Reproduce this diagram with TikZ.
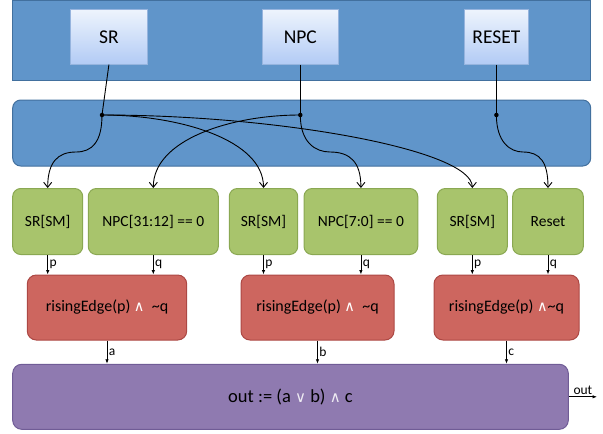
\documentclass[tikz,border=0pt]{standalone}
\usepackage{fontspec}
\setmainfont{Carlito}
\newfontfamily\symf{DejaVu Sans}
\usetikzlibrary{arrows.meta}
\definecolor{panelfill}{RGB}{96,149,202}
\definecolor{paneldraw}{RGB}{66,112,158}
\definecolor{srctop}{RGB}{238,244,253}
\definecolor{srcbot}{RGB}{178,203,245}
\definecolor{srcdraw}{RGB}{150,180,222}
\definecolor{grnfill}{RGB}{168,196,108}
\definecolor{grndraw}{RGB}{138,168,82}
\definecolor{redfill}{RGB}{205,102,95}
\definecolor{reddraw}{RGB}{172,72,68}
\definecolor{purfill}{RGB}{143,122,176}
\definecolor{purdraw}{RGB}{112,92,150}
\newcommand\wand{{\color{white}\symf\fontsize{14.5}{14.5}\selectfont ∧}}
\newcommand\wor{{\color{white!85!purfill}\symf\fontsize{15}{15}\selectfont ∨}}
\newcommand\wandp{{\color{white!85!purfill}\symf\fontsize{15}{15}\selectfont ∧}}
\begin{document}
\begin{tikzpicture}[x=1pt,y=-1pt,
  panel/.style={draw=paneldraw,fill=panelfill,line width=1pt,inner sep=0pt},
  srcbox/.style={draw=srcdraw,top color=srctop,bottom color=srcbot,line width=0.8pt,inner sep=0pt,minimum height=55pt,font=\fontsize{19.5}{20}\selectfont},
  condbox/.style={draw=grndraw,fill=grnfill,line width=1pt,rounded corners=8pt,inner sep=0pt,minimum height=66pt,font=\fontsize{15.5}{16}\selectfont},
  edgebox/.style={draw=reddraw,fill=redfill,line width=1pt,rounded corners=9pt,inner sep=0pt,minimum height=65pt,font=\fontsize{16}{17}\selectfont},
  outbox/.style={draw=purdraw,fill=purfill,line width=1pt,rounded corners=9pt,inner sep=0pt,minimum height=65pt,font=\fontsize{18.5}{19}\selectfont},
  junction/.style={circle,fill=black,inner sep=0pt,minimum size=4.5pt},
  wire/.style={line width=0.9pt,-{Straight Barb[length=5pt,width=8pt]}},
  sig/.style={line width=0.8pt,-{Latex[length=4.5pt,width=3.5pt]}},
  lab/.style={font=\fontsize{13.5}{14}\selectfont,inner sep=1.5pt}]
\useasboundingbox (0,0) rectangle (603,434);
% top panel and sources
\node[panel,minimum width=578pt,minimum height=79.5pt] (toppanel) at (301,40.25) {};
\node[srcbox,minimum width=77.7pt] (sr) at (108.9,36.8) {SR};
\node[srcbox,minimum width=76pt] (npc) at (300.3,36.8) {NPC};
\node[srcbox,minimum width=63.7pt] (rst) at (496.4,36.8) {RESET};
% second panel
\node[panel,rounded corners=8pt,minimum width=578pt,minimum height=66pt] (midpanel) at (301.7,133) {};
\node[junction] (d1) at (102,115) {};
\node[junction] (d2) at (300.3,115) {};
\node[junction] (d3) at (496.4,115) {};
\draw[line width=0.9pt] (sr.south) -- (d1.center);
\draw[line width=0.9pt] (npc.south) -- (d2.center);
\draw[line width=0.9pt] (rst.south) -- (d3.center);
% condition boxes
\node[condbox,minimum width=70pt] (g1) at (47.7,221.5) {SR[SM]};
\node[condbox,minimum width=130pt] (g2) at (153.3,221.5) {NPC[31:12] == 0};
\node[condbox,minimum width=68.4pt] (g3) at (263.5,221.5) {SR[SM]};
\node[condbox,minimum width=113.7pt] (g4) at (360.9,221.5) {NPC[7:0] == 0};
\node[condbox,minimum width=70pt] (g5) at (472.3,221.5) {SR[SM]};
\node[condbox,minimum width=70.6pt] (g6) at (548,221.5) {Reset};
% wires
\draw[wire] (d1.center) .. controls (102,142) and (92,152) .. (76,152) .. controls (58,152) and (47.7,162) .. (g1.north);
\draw[wire] (d1.center) .. controls (180,115) and (263.5,140) .. (g3.north);
\draw[wire] (d1.center) .. controls (280,115) and (472.3,150) .. (g5.north);
\draw[wire] (d2.center) .. controls (230,115) and (153.3,140) .. (g2.north);
\draw[wire] (d2.center) .. controls (300.3,142) and (315,152) .. (330,152) .. controls (350,152) and (360.9,162) .. (g4.north);
\draw[wire] (d3.center) .. controls (496.4,142) and (510,152) .. (523,152) .. controls (540,152) and (548,162) .. (g6.north);
% rising edge boxes
\node[edgebox,minimum width=159.4pt] (r1) at (107,307.5) {risingEdge(p) \wand\ \ \textasciitilde q};
\node[edgebox,minimum width=153pt] (r2) at (317.5,307.5) {risingEdge(p) \wand\ \ \textasciitilde q};
\node[edgebox,minimum width=145pt] (r3) at (506.5,307.5) {risingEdge(p) \wand\textasciitilde q};
% p / q signals
\draw[sig] (g1.south) -- (g1.south |- r1.north) node[lab,midway,right] {p};
\draw[sig] (g2.south) -- (g2.south |- r1.north) node[lab,midway,right] {q};
\draw[sig] (g3.south) -- (g3.south |- r2.north) node[lab,midway,right] {p};
\draw[sig] (g4.south) -- (g4.south |- r2.north) node[lab,midway,right] {q};
\draw[sig] (g5.south) -- (g5.south |- r3.north) node[lab,midway,right] {p};
\draw[sig] (g6.south) -- (g6.south |- r3.north) node[lab,midway,right] {q};
% output box
\node[outbox,minimum width=555.6pt] (ob) at (290.5,396.8) {out := (a \wor\ b) \wandp\ c};
\draw[sig] (r1.south) -- (r1.south |- ob.north) node[lab,midway,right] {a};
\draw[sig] (r2.south) -- (r2.south |- ob.north) node[lab,midway,right] {b};
\draw[sig] (r3.south) -- (r3.south |- ob.north) node[lab,midway,right] {c};
\coordinate (outend) at (597,396.8);
\draw[sig] (ob.east) -- (outend) node[lab,midway,above] {out};
\end{tikzpicture}
\end{document}
